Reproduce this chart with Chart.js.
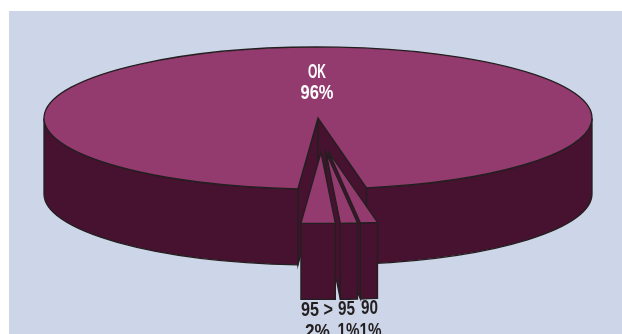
<!DOCTYPE html>
<html>
<head>
<meta charset="utf-8">
<title>Pie</title>
<script src="https://cdn.jsdelivr.net/npm/chart.js@4"></script>
<style>
  html, body { margin: 0; padding: 0; background: #fff; }
  canvas { display: block; }
</style>
</head>
<body>
<canvas id="pieChart" width="622" height="334"></canvas>
<script>
const categories = ['OK', '90', '95', '95 >'];
const shares = [96, 1, 1, 2];
const shareLabels = ['96%', '1%', '1%', '2%'];

// look of the fake 3D pie
const tilt = 0.259;      // ellipse height / width
const depth = 76;        // wall height in px
const explodeX = [0, 11, 8, 3];
const explodeY = [0, 34.5, 34.5, 34.5];
const topColor = '#933a6e';
const wallColor = '#46122f';
const lineColor = '#231f20';
const panelColor = '#cdd6e8';
const lineWidth = 1.3;

// the reference font is a narrow one, so each text gets squeezed to its width
const labelFont = 'bold 20px "Liberation Sans", sans-serif';
const nameX = [317, 369.5, 346.5, 317];
const nameY = [78, 314, 315, 316];
const nameWidth = [18, 17, 17, 32];
const shareX = [317, 370.5, 348.5, 317.5];
const shareY = [99, 337, 337, 337.5];
const shareWidth = [33, 22, 22, 25];

function wallPath(ctx, x, y, r, from, to) {
    ctx.beginPath();
    ctx.ellipse(x, y, r, r * tilt, 0, from, to);
    ctx.ellipse(x, y + depth, r, r * tilt, 0, to, from, true);
    ctx.closePath();
}

function paintPath(ctx, color) {
    ctx.fillStyle = color;
    ctx.fill();
    ctx.strokeStyle = lineColor;
    ctx.lineWidth = lineWidth;
    ctx.stroke();
}

// flat side of a cut, from the centre out to the rim at the given angle
function drawCut(ctx, x, y, r, angle) {
    const ex = x + Math.cos(angle) * r;
    const ey = y + Math.sin(angle) * r * tilt;
    ctx.beginPath();
    ctx.moveTo(x, y);
    ctx.lineTo(ex, ey);
    ctx.lineTo(ex, ey + depth);
    ctx.lineTo(x, y + depth);
    ctx.closePath();
    paintPath(ctx, wallColor);
}

function drawSlice(ctx, arc, i) {
    const x = arc.x + explodeX[i];
    const y = arc.y + explodeY[i];
    const r = arc.outerRadius;
    const start = arc.startAngle;
    const end = arc.endAngle;

    // the cuts, only the ones that face the viewer
    if (i === 0) {
        drawCut(ctx, x, y, r, start);
        drawCut(ctx, x, y, r, end);
    } else if (explodeX[i] > 5) {
        drawCut(ctx, x, y, r, end);
    }

    // outer wall, front half of the ellipse only
    [0, Math.PI * 2].forEach((base) => {
        const from = Math.max(start, base);
        const to = Math.min(end, base + Math.PI);
        if (to > from) {
            wallPath(ctx, x, y, r, from, to);
            paintPath(ctx, wallColor);
        }
    });

    // top face : the library arc, squeezed into an ellipse
    ctx.save();
    ctx.translate(explodeX[i], y);
    ctx.scale(1, tilt);
    ctx.translate(0, -arc.y);
    arc.draw(ctx);
    ctx.restore();

    ctx.beginPath();
    ctx.moveTo(x, y);
    ctx.ellipse(x, y, r, r * tilt, 0, start, end);
    ctx.closePath();
    ctx.strokeStyle = lineColor;
    ctx.lineWidth = lineWidth;
    ctx.stroke();
}

function drawLabels(ctx) {
    ctx.font = labelFont;
    ctx.textAlign = 'center';
    ctx.textBaseline = 'alphabetic';
    categories.forEach((name, i) => {
        ctx.fillStyle = i === 0 ? '#fff' : lineColor;
        ctx.fillText(name, nameX[i], nameY[i], nameWidth[i]);
        ctx.fillText(shareLabels[i], shareX[i], shareY[i], shareWidth[i]);
    });
}

const pie3d = {
    id: 'pie3d',
    beforeDraw(chart) {
        const ctx = chart.ctx;
        ctx.fillStyle = panelColor;
        ctx.fillRect(9, 11, chart.width - 9, chart.height - 11);
    },
    beforeDatasetDraw(chart, args) {
        const ctx = chart.ctx;
        // main pie first, then the pulled out slices from right to left
        args.meta.data.forEach((arc, i) => drawSlice(ctx, arc, i));
        drawLabels(ctx);
        return false;
    }
};

new Chart(document.getElementById('pieChart').getContext('2d'), {
    type: 'pie',
    data: {
        labels: categories,
        datasets: [{
            data: shares,
            backgroundColor: topColor,
            borderWidth: 0
        }]
    },
    options: {
        responsive: false,
        animation: false,
        events: [],
        rotation: 184.2,
        radius: 274,
        layout: { padding: { left: 14, bottom: 98 } },
        plugins: { legend: { display: false }, tooltip: { enabled: false } }
    },
    plugins: [pie3d]
});
</script>
</body>
</html>
